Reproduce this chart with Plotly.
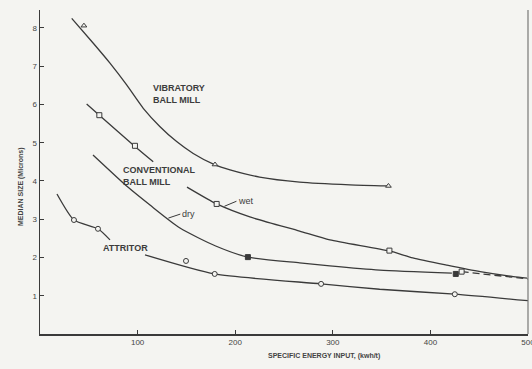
import plotly.graph_objects as go

# ---- data ----
# curves (energy kwh/t, median size microns); None = gap left for a label
vib_x = [32.5, 54.6, 71.7, 88.8, 105.8, 123, 140, 157, 179.3, 194.7, 225, 266, 317.6, 356.6]
vib_y = [8.25, 7.60, 7.08, 6.51, 5.90, 5.42, 5.03, 4.72, 4.42, 4.29, 4.10, 3.97, 3.90, 3.87]

wet_x = [47.8, 60.8, 97.3, 116, None, 150.6, 181, 215, 266, 297, 358, 382, 417, 451, 485, 499]
wet_y = [6.01, 5.72, 4.90, 4.50, None, 3.84, 3.40, 3.06, 2.69, 2.46, 2.17, 1.99, 1.80, 1.63, 1.50, 1.46]

dry_x = [54.3, 90, 112.7, 143.4, 180, 213, 266, 297, 348, 422]
dry_y = [4.68, 3.84, 3.37, 2.77, 2.30, 2.01, 1.86, 1.78, 1.67, 1.59]

dash_x = [432, 500]
dash_y = [1.63, 1.44]

att_x = [17.4, 34.8, 59.4, 71.7, None, 107.6, 179, 288, 348, 425, 500]
att_y = [3.66, 2.98, 2.75, 2.46, None, 2.07, 1.57, 1.31, 1.17, 1.04, 0.87]

# markers
tri_x = [45, 179.3, 357]
tri_y = [8.06, 4.43, 3.87]
sq_open_x = [60.8, 97.3, 181, 358, 432]
sq_open_y = [5.72, 4.92, 3.40, 2.18, 1.63]
sq_fill_x = [213, 426]
sq_fill_y = [2.01, 1.57]
circ_x = [34.8, 59.4, 149.6, 179, 288, 425]
circ_y = [2.98, 2.75, 1.91, 1.57, 1.31, 1.04]

x_ticks = [100, 200, 300, 400, 500]
y_ticks = [1, 2, 3, 4, 5, 6, 7, 8]

BG = "#f4f4f1"
INK = "#3a3a3a"
FONT = "Liberation Sans, Arial, sans-serif"

fig = go.Figure()
line_style = dict(color=INK, width=1.3, shape="spline", smoothing=0.6)
for xs, ys in [(vib_x, vib_y), (wet_x, wet_y), (dry_x, dry_y), (att_x, att_y)]:
    fig.add_trace(go.Scatter(x=xs, y=ys, mode="lines", line=line_style,
                             connectgaps=False, hoverinfo="skip", showlegend=False))
fig.add_trace(go.Scatter(x=dash_x, y=dash_y, mode="lines",
                         line=dict(color=INK, width=1.3, dash="7px,4px"),
                         showlegend=False, hoverinfo="skip"))

def mk(xs, ys, sym, fill):
    fig.add_trace(go.Scatter(x=xs, y=ys, mode="markers", showlegend=False,
                             hoverinfo="skip",
                             marker=dict(symbol=sym, size=5, color=fill,
                                         line=dict(color=INK, width=1))))

mk(tri_x, tri_y, "triangle-up", BG)
mk(sq_open_x, sq_open_y, "square", BG)
mk(sq_fill_x, sq_fill_y, "square", INK)
mk(circ_x, circ_y, "circle", BG)

lab_font = dict(family=FONT, size=9, color="#3c3c3c")
labels = [
    (114.0, 6.27, "<b>VIBRATORY<br>BALL MILL</b>"),
    (83.0, 4.13, "<b>CONVENTIONAL<br>BALL MILL</b>"),
    (62.5, 2.25, "<b>ATTRITOR</b>"),
]
for x, y, t in labels:
    fig.add_annotation(x=x, y=y, text=t, showarrow=False, xanchor="left",
                       yanchor="middle", align="left", font=lab_font)

# small leader labels
fig.add_annotation(x=189, y=3.34, ax=12, ay=-5, text="wet", showarrow=True,
                   arrowhead=0, arrowwidth=1, arrowcolor=INK, xanchor="left",
                   font=dict(family=FONT, size=9, color="#3c3c3c"))
fig.add_annotation(x=131.5, y=3.03, ax=12, ay=-4, text="dry", showarrow=True,
                   arrowhead=0, arrowwidth=1, arrowcolor=INK, xanchor="left",
                   font=dict(family=FONT, size=9, color="#3c3c3c"))

# axis titles
fig.add_annotation(xref="paper", yref="paper", x=0.582, y=-0.086,
                   text="<b>SPECIFIC ENERGY INPUT, (kwh/t)</b>", showarrow=False,
                   font=dict(family=FONT, size=7, color="#444"))
fig.add_annotation(xref="paper", yref="paper", x=-0.051, y=0.454, textangle=-90,
                   text="<b>MEDIAN SIZE (Microns)</b>", showarrow=False,
                   font=dict(family=FONT, size=7, color="#444"))

fig.update_layout(
    width=532, height=369,
    margin=dict(l=40, r=4, t=10, b=35, autoexpand=False),
    paper_bgcolor=BG, plot_bgcolor=BG,
    font=dict(family=FONT, color=INK),
    xaxis=dict(range=[0, 500], tickvals=x_ticks, ticktext=[str(v) for v in x_ticks],
               showgrid=False, zeroline=False, showline=True, linecolor=INK,
               linewidth=1.5, ticks="inside", ticklen=4, tickcolor=INK,
               automargin=False, ticklabeloverflow="allow",
               tickfont=dict(size=8, color="#444")),
    yaxis=dict(range=[0, 8.47], tickvals=y_ticks, ticktext=[str(v) for v in y_ticks],
               showgrid=False, zeroline=False, showline=True, linecolor=INK,
               linewidth=1.5, ticks="inside", ticklen=4, tickcolor=INK,
               automargin=False, ticklabeloverflow="allow",
               tickfont=dict(size=8, color="#444")),
)
fig.add_shape(type="line", xref="paper", yref="paper", x0=1, x1=1, y0=0, y1=1,
              line=dict(color="#777", width=1.2))

fig.write_html("out.html",
               config=dict(staticPlot=True, displayModeBar=False),
               post_script="document.body.style.margin='0';"
                           "document.body.style.overflow='hidden';"
                           f"document.body.style.background='{BG}';")
